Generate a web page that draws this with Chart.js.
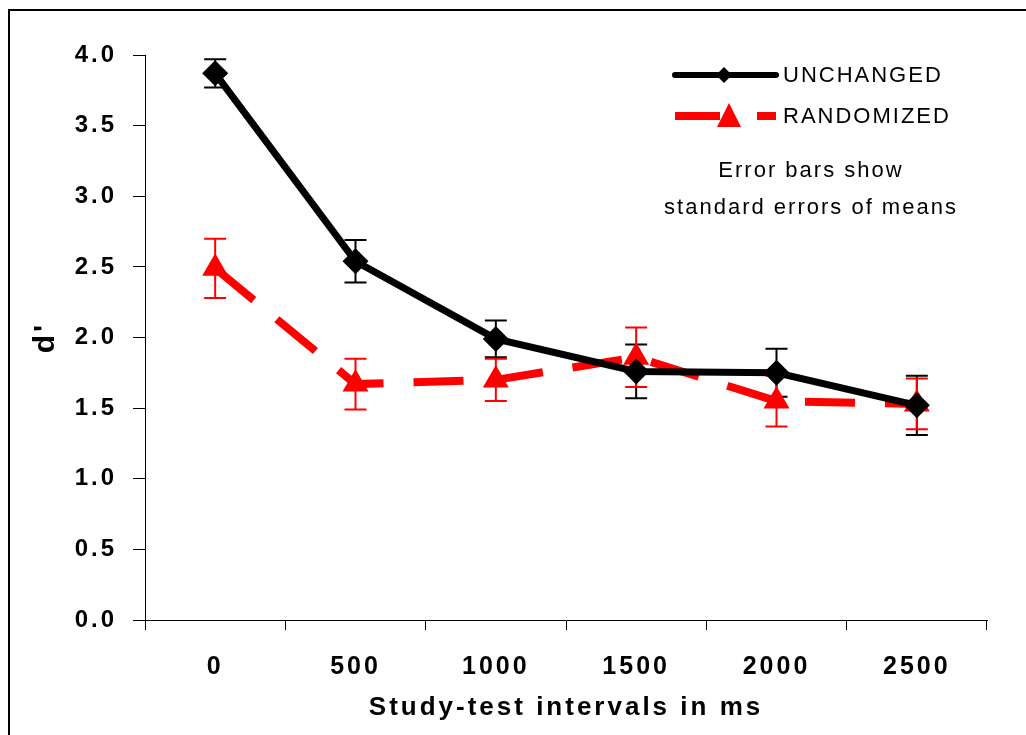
<!DOCTYPE html>
<html>
<head>
<meta charset="utf-8">
<script src="https://cdn.jsdelivr.net/npm/chart.js@4/dist/chart.umd.min.js"></script>
<style>
  body { margin: 0; background: #fff; }
  #wrap { position: relative; width: 1026px; height: 735px; overflow: hidden; }
  #frame { position: absolute; left: 8px; top: 9px; width: 1100px; height: 800px;
           border-left: 2px solid #000; border-top: 2px solid #000; pointer-events: none; }
  canvas { position: absolute; left: 0; top: 0; }
</style>
</head>
<body>
<div id="wrap">
  <canvas id="chart" width="1026" height="735"></canvas>
  <div id="frame"></div>
</div>
<script>
// Dados do gráfico
const intervals = ['0', '500', '1000', '1500', '2000', '2500'];
const unchanged = [3.87, 2.54, 1.99, 1.76, 1.75, 1.52];
const unchangedErr = [0.10, 0.15, 0.13, 0.19, 0.17, 0.21];
const randomized = [2.49, 1.67, 1.70, 1.86, 1.55, 1.53];
const randomizedErr = [0.21, 0.18, 0.15, 0.21, 0.18, 0.18];
const yTicks = ['0.0', '0.5', '1.0', '1.5', '2.0', '2.5', '3.0', '3.5', '4.0'];
const noteLines = ['Error bars show', 'standard errors of means'];

const errors = [unchangedErr, randomizedErr];

// Espaçamento entre letras (estilo Excel)
const spacingPlugin = {
  id: 'spacing',
  beforeDraw(chart) {
    chart.ctx.letterSpacing = '3px';
  }
};

// Barras de erro
const errorBarPlugin = {
  id: 'errorBars',
  beforeDatasetsDraw(chart) {
    const ctx = chart.ctx;
    const y = chart.scales.y;
    chart.data.datasets.forEach((ds, i) => {
      const meta = chart.getDatasetMeta(i);
      ctx.save();
      ctx.strokeStyle = ds.borderColor;
      ctx.lineWidth = 2;
      meta.data.forEach((pt, j) => {
        const top = y.getPixelForValue(ds.data[j] + errors[i][j]);
        const bot = y.getPixelForValue(ds.data[j] - errors[i][j]);
        ctx.beginPath();
        ctx.moveTo(pt.x, top); ctx.lineTo(pt.x, bot);
        ctx.moveTo(pt.x - 11, top); ctx.lineTo(pt.x + 11, top);
        ctx.moveTo(pt.x - 11, bot); ctx.lineTo(pt.x + 11, bot);
        ctx.stroke();
      });
      ctx.restore();
    });
  }
};

// Legenda e nota
const legendPlugin = {
  id: 'customLegend',
  afterDraw(chart) {
    const ctx = chart.ctx;
    ctx.save();
    ctx.letterSpacing = '2px';
    ctx.font = '22px "Liberation Sans", Arial, sans-serif';
    ctx.fillStyle = '#000';
    ctx.textBaseline = 'middle';
    const rows = [75, 116];
    chart.data.datasets.forEach((ds, i) => {
      const yy = rows[i];
      ctx.strokeStyle = ds.borderColor;
      ctx.lineWidth = i === 0 ? 6 : 8;
      ctx.lineCap = i === 0 ? 'round' : 'butt';
      ctx.setLineDash(i === 0 ? [] : [45, 37]);
      ctx.beginPath();
      ctx.moveTo(675, yy); ctx.lineTo(776, yy);
      ctx.stroke();
      ctx.setLineDash([]);
      ctx.fillStyle = ds.borderColor;
      ctx.beginPath();
      if (i === 0) {
        ctx.moveTo(724, yy - 8); ctx.lineTo(732, yy); ctx.lineTo(724, yy + 8); ctx.lineTo(716, yy);
      } else {
        ctx.moveTo(729, yy - 13); ctx.lineTo(741, yy + 11); ctx.lineTo(717, yy + 11);
      }
      ctx.closePath();
      ctx.fill();
      ctx.fillStyle = '#000';
      ctx.textAlign = 'left';
      ctx.fillText(ds.label, 783, yy + 1);
    });
    ctx.textAlign = 'center';
    ctx.fillText(noteLines[0], 811, 171);
    ctx.fillText(noteLines[1], 811, 208);
    ctx.restore();
  }
};

new Chart(document.getElementById('chart'), {
  type: 'line',
  data: {
    labels: intervals,
    datasets: [
      {
        label: 'UNCHANGED',
        data: unchanged,
        borderColor: '#000000',
        backgroundColor: '#000000',
        borderWidth: 7,
        pointStyle: 'rectRot',
        pointRadius: 13,
        pointBorderWidth: 0,
        tension: 0
      },
      {
        label: 'RANDOMIZED',
        data: randomized,
        borderColor: '#ff0000',
        backgroundColor: '#ff0000',
        borderWidth: 8,
        borderDash: [50, 30],
        pointStyle: 'triangle',
        pointRadius: 15,
        pointBorderWidth: 0,
        tension: 0
      }
    ]
  },
  options: {
    responsive: false,
    animation: false,
    layout: { padding: { left: 10, right: 39, top: 55, bottom: 0 } },
    plugins: {
      legend: { display: false },
      tooltip: { enabled: false }
    },
    scales: {
      x: {
        offset: true,
        grid: { offset: true, drawOnChartArea: false, tickLength: 10, color: '#000', lineWidth: 1 },
        border: { color: '#000', width: 1 },
        ticks: {
          color: '#000', padding: 22,
          font: { family: '"Liberation Sans Narrow", "Liberation Sans", Arial, sans-serif', size: 25, weight: 'bold' }
        },
        title: {
          display: true, text: 'Study-test intervals in ms', color: '#000',
          padding: { top: 4, bottom: 12 },
          font: { family: '"Liberation Sans Narrow", "Liberation Sans", Arial, sans-serif', size: 26, weight: 'bold' }
        },
        afterFit(scale) { scale.height = 115; }
      },
      y: {
        min: 0, max: 4,
        grid: { drawOnChartArea: false, tickLength: 12, color: '#000', lineWidth: 1 },
        border: { color: '#000', width: 1 },
        ticks: {
          stepSize: 0.5, color: '#000', padding: 16,
          font: { family: '"Liberation Sans", Arial, sans-serif', size: 24, weight: 'bold' },
          callback: (v, i) => yTicks[i]
        },
        title: {
          display: true, text: "d'", color: '#000',
          padding: { top: 18, bottom: 0 },
          font: { family: '"Liberation Sans", Arial, sans-serif', size: 30, weight: 'bold' }
        },
        afterFit(scale) { scale.width = 135; }
      }
    }
  },
  plugins: [spacingPlugin, errorBarPlugin, legendPlugin]
});
</script>
</body>
</html>
